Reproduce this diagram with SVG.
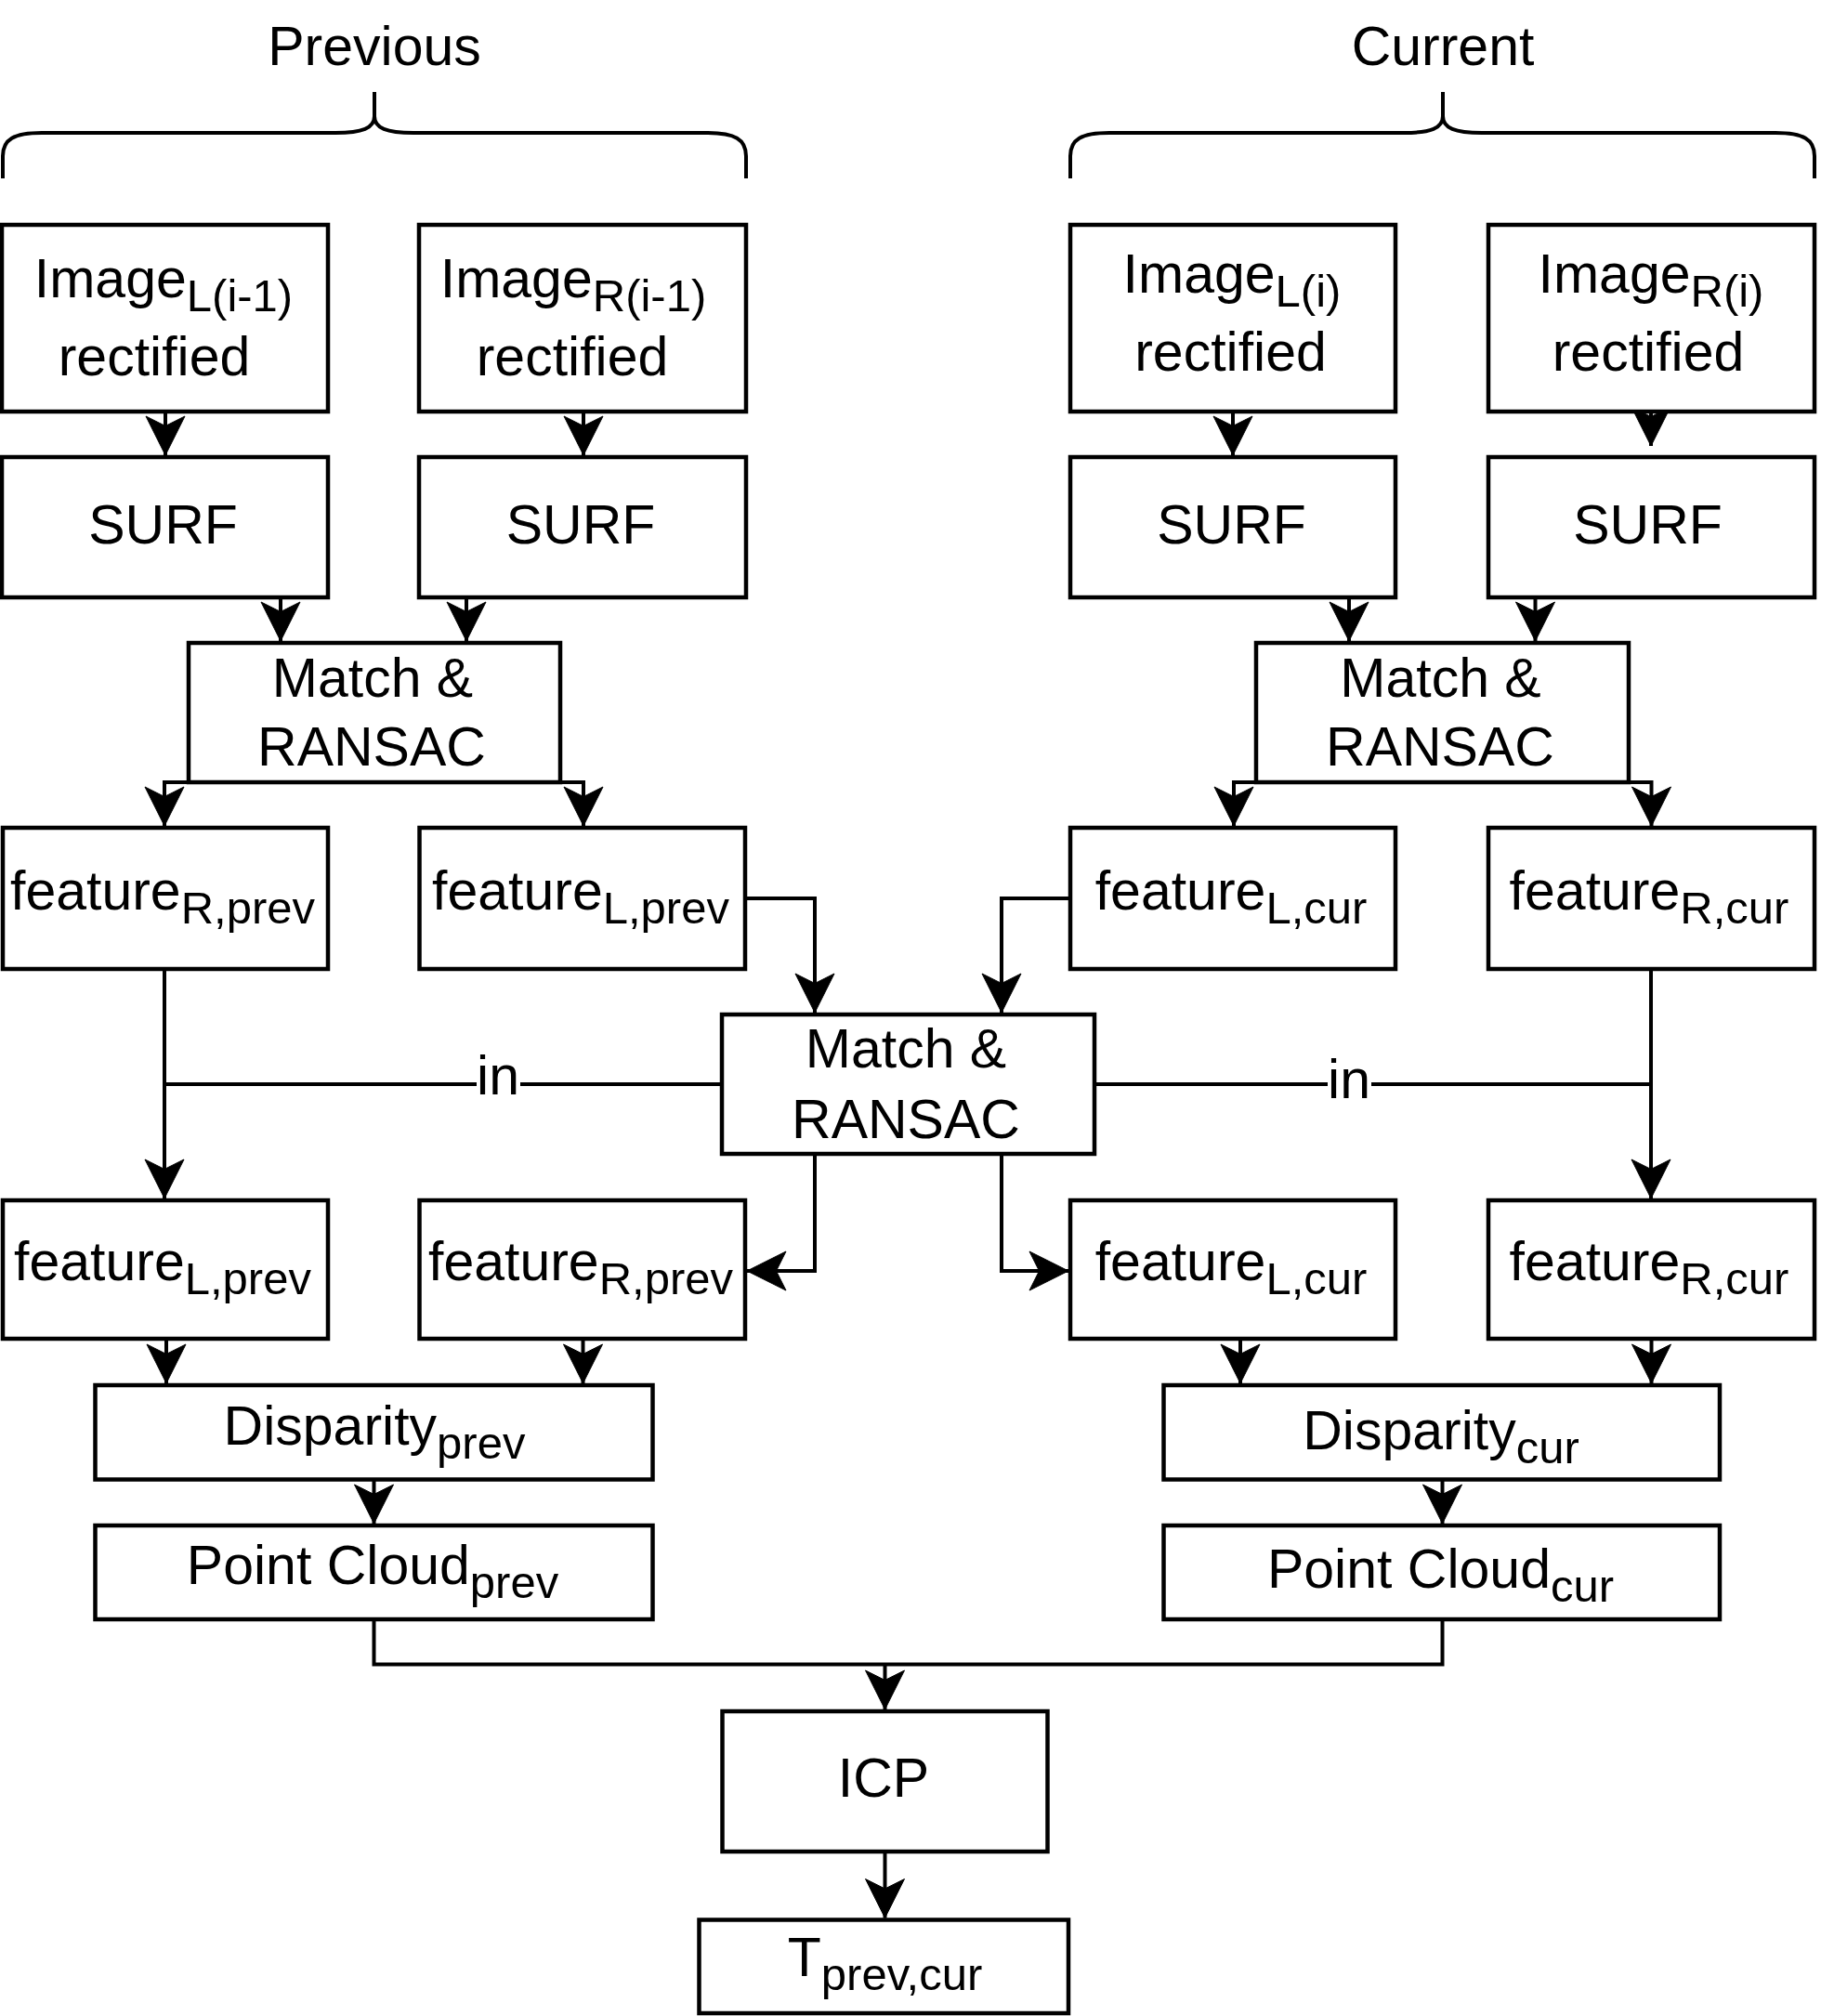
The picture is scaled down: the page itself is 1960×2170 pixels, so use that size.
<svg xmlns="http://www.w3.org/2000/svg" width="1960" height="2170" viewBox="0 0 1960 2170">
<style>
.box{fill:#fff;stroke:#000;stroke-width:4.5}
.ln{fill:none;stroke:#000;stroke-width:4}
.ar{fill:none;stroke:#000;stroke-width:4;marker-end:url(#arr)}
text{font-family:"Liberation Sans",Arial,sans-serif;font-size:59px;fill:#000;text-anchor:middle}
.sub{font-size:49px}
</style>
<defs>
<marker id="arr" markerUnits="userSpaceOnUse" viewBox="-44 -22 46 44" refX="0" refY="0" markerWidth="46" markerHeight="44" orient="auto">
<path d="M0,0 L-42,-21 L-31.5,0 L-42,21 Z" fill="#000" stroke="#000" stroke-width="1"/>
</marker>
</defs>
<rect x="0" y="0" width="1960" height="2170" fill="#fff"/>

<g id="brace-previous">
<path class="ln" d="M3,192 V168 C3,150 15,143 45,143 H361 C390,143 403,138 403,125 V99 M403,125 C403,138 416,143 445,143 H761 C791,143 803,150 803,168 V192"/>
<text x="403" y="70">Previous</text>
</g>
<g id="brace-current">
<path class="ln" d="M1152,192 V168 C1152,150 1164,143 1194,143 H1511 C1540,143 1553,138 1553,125 V99 M1553,125 C1553,138 1566,143 1595,143 H1911 C1941,143 1953,150 1953,168 V192"/>
<text x="1553" y="70">Current</text>
</g>

<g id="connectors">
<path class="ar" d="M178,443 V490"/>
<path class="ar" d="M628,443 V490"/>
<path class="ar" d="M1327,443 V490"/>
<path class="ar" d="M1777,443 V480"/>
<path class="ar" d="M302,643 V690"/>
<path class="ar" d="M502,643 V690"/>
<path class="ar" d="M1452,643 V690"/>
<path class="ar" d="M1652.5,643 V690"/>
<path class="ar" d="M203,842 H177 V889"/>
<path class="ar" d="M603,842 H628 V889"/>
<path class="ar" d="M1352,842 H1328 V889"/>
<path class="ar" d="M1753,842 H1777.5 V889"/>
<path class="ar" d="M802,967 H877 V1090"/>
<path class="ar" d="M1152,967 H1078 V1090"/>
<path class="ar" d="M877,1242 V1368 H804"/>
<path class="ar" d="M1078,1242 V1368 H1150"/>
<path class="ar" d="M177,1043 V1290"/>
<path class="ar" d="M1777,1043 V1290"/>
<path class="ln" d="M777,1167 H177"/>
<path class="ln" d="M1178,1167 H1777"/>
<rect x="513" y="1158" width="47" height="18" fill="#fff"/>
<text x="536" y="1178">in</text>
<rect x="1429" y="1158" width="47" height="18" fill="#fff"/>
<text x="1452" y="1182">in</text>
<path class="ar" d="M179,1441 V1489"/>
<path class="ar" d="M627.5,1441 V1489"/>
<path class="ar" d="M1335,1441 V1489"/>
<path class="ar" d="M1777.5,1441 V1489"/>
<path class="ar" d="M402.5,1592.5 V1640"/>
<path class="ar" d="M1552.5,1592.5 V1640"/>
<path class="ln" d="M402.5,1743 V1791.5 H1552.5 V1743"/>
<path class="ar" d="M952.5,1791.5 V1840"/>
<path class="ar" d="M952.5,1993 V2064.5"/>
</g>

<g id="imgL-prev"><rect class="box" x="2" y="242" width="351" height="201"/><text x="176" y="320">Image<tspan class="sub" dy="15">L(i-1)</tspan></text><text x="166" y="404">rectified</text></g>
<g id="imgR-prev"><rect class="box" x="451" y="242" width="352" height="201"/><text x="617" y="320">Image<tspan class="sub" dy="15">R(i-1)</tspan></text><text x="616" y="404">rectified</text></g>
<g id="imgL-cur"><rect class="box" x="1152" y="242" width="350" height="201"/><text x="1326" y="315">Image<tspan class="sub" dy="15">L(i)</tspan></text><text x="1324.5" y="399">rectified</text></g>
<g id="imgR-cur"><rect class="box" x="1602" y="242" width="351" height="201"/><text x="1777" y="315">Image<tspan class="sub" dy="15">R(i)</tspan></text><text x="1774" y="399">rectified</text></g>

<g id="surfL-prev"><rect class="box" x="2" y="492" width="351" height="151"/><text x="175.5" y="585">SURF</text></g>
<g id="surfR-prev"><rect class="box" x="451" y="492" width="352" height="151"/><text x="625" y="585">SURF</text></g>
<g id="surfL-cur"><rect class="box" x="1152" y="492" width="350" height="151"/><text x="1325.5" y="585">SURF</text></g>
<g id="surfR-cur"><rect class="box" x="1602" y="492" width="351" height="151"/><text x="1773.5" y="585">SURF</text></g>

<g id="match-prev"><rect class="box" x="203" y="692" width="400" height="150"/><text x="401" y="750">Match &amp;</text><text x="400" y="824">RANSAC</text></g>
<g id="match-cur"><rect class="box" x="1352" y="692" width="401" height="150"/><text x="1550.5" y="750">Match &amp;</text><text x="1550" y="824">RANSAC</text></g>

<g id="featR-prev-1"><rect class="box" x="3" y="891" width="350" height="152"/><text x="175" y="978.5">feature<tspan class="sub" dy="15">R,prev</tspan></text></g>
<g id="featL-prev-1"><rect class="box" x="451.5" y="891" width="350.5" height="152"/><text x="625" y="978.5">feature<tspan class="sub" dy="15">L,prev</tspan></text></g>
<g id="featL-cur-1"><rect class="box" x="1152" y="891" width="350" height="152"/><text x="1325" y="978.5">feature<tspan class="sub" dy="15">L,cur</tspan></text></g>
<g id="featR-cur-1"><rect class="box" x="1602" y="891" width="351" height="152"/><text x="1775" y="978.5">feature<tspan class="sub" dy="15">R,cur</tspan></text></g>

<g id="match-mid"><rect class="box" x="777" y="1092" width="401" height="150"/><text x="975" y="1149">Match &amp;</text><text x="975" y="1225">RANSAC</text></g>

<g id="featL-prev-2"><rect class="box" x="3" y="1292" width="350" height="149"/><text x="175" y="1378">feature<tspan class="sub" dy="15">L,prev</tspan></text></g>
<g id="featR-prev-2"><rect class="box" x="451.5" y="1292" width="350.5" height="149"/><text x="625" y="1378">feature<tspan class="sub" dy="15">R,prev</tspan></text></g>
<g id="featL-cur-2"><rect class="box" x="1152" y="1292" width="350" height="149"/><text x="1325" y="1378">feature<tspan class="sub" dy="15">L,cur</tspan></text></g>
<g id="featR-cur-2"><rect class="box" x="1602" y="1292" width="351" height="149"/><text x="1775" y="1378">feature<tspan class="sub" dy="15">R,cur</tspan></text></g>

<g id="disp-prev"><rect class="box" x="102.5" y="1491" width="600" height="101.5"/><text x="403" y="1555">Disparity<tspan class="sub" dy="15">prev</tspan></text></g>
<g id="disp-cur"><rect class="box" x="1252.5" y="1491" width="598.5" height="101.5"/><text x="1551" y="1560">Disparity<tspan class="sub" dy="15">cur</tspan></text></g>
<g id="pc-prev"><rect class="box" x="102.5" y="1642" width="600" height="101"/><text x="401" y="1704.5">Point Cloud<tspan class="sub" dy="15">prev</tspan></text></g>
<g id="pc-cur"><rect class="box" x="1252.5" y="1642" width="598.5" height="101"/><text x="1550.5" y="1709">Point Cloud<tspan class="sub" dy="15">cur</tspan></text></g>

<g id="icp"><rect class="box" x="777.5" y="1842" width="350" height="151"/><text x="951" y="1934">ICP</text></g>
<g id="tpc"><rect class="box" x="752.5" y="2066.5" width="397.5" height="100.5"/><text x="952.5" y="2127">T<tspan class="sub" dy="15">prev,cur</tspan></text></g>
</svg>
